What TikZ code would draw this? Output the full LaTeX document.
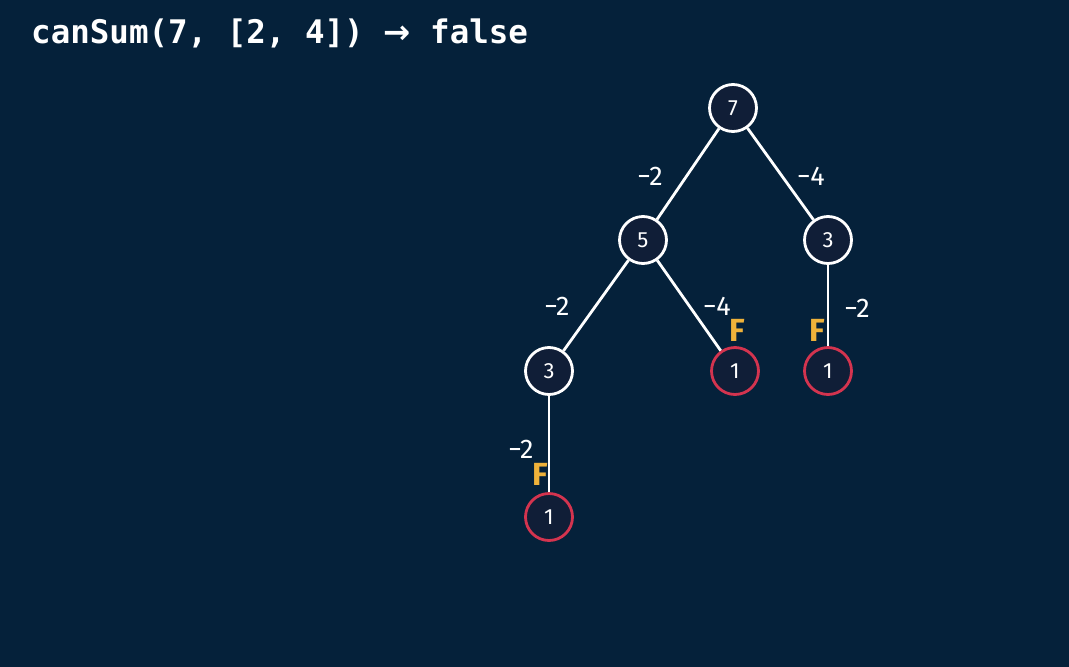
\documentclass[tikz,border=0pt]{standalone}
\usepackage{fontspec}
\setmainfont{Fira Sans}
\newfontfamily\titlefont{DejaVu Sans Mono}
\newfontfamily\arrowfont{DejaVu Sans}
\definecolor{bg}{HTML}{05213A}
\definecolor{nodefill}{HTML}{101E37}
\definecolor{failred}{HTML}{D4344F}
\definecolor{fyellow}{HTML}{EFB23A}
\tikzset{
  tnode/.style={circle, draw=white, line width=2.8pt, fill=nodefill, minimum size=47pt, inner sep=0pt, text=white, font=\fontsize{22}{22}\selectfont},
  failnode/.style={tnode, draw=failred},
  edge/.style={draw=white, line width=2.8pt},
  elabel/.style={text=white, font=\fontsize{27}{27}\selectfont, inner sep=0pt},
  flabel/.style={text=fyellow, font=\bfseries\fontsize{32}{32}\selectfont, inner sep=0pt}
}
\begin{document}
\begin{tikzpicture}[x=1pt, y=-1pt]
\fill[bg] (0,0) rectangle (1069,667);
\useasboundingbox (0,0) rectangle (1069,667);
\node[anchor=west, text=white, font=\titlefont\bfseries\fontsize{32.5}{32.5}\selectfont, inner sep=0pt] (title) at (31,33) {canSum(7, [2, 4]) {\arrowfont\bfseries →} false};
\node[tnode] (n7) at (733,108) {7};
\node[tnode] (n5) at (643,240) {5};
\node[tnode] (n3r) at (828,240) {3};
\node[tnode] (n3l) at (549,371) {3};
\node[failnode] (n1a) at (735,371) {1};
\node[failnode] (n1b) at (828,371) {1};
\node[failnode] (n1c) at (549,517) {1};
\draw[edge] (n7) -- (n5);
\draw[edge] (n7) -- (n3r);
\draw[edge] (n5) -- (n3l);
\draw[edge] (n5) -- (n1a);
\draw[edge] (n3r) -- (n1b);
\draw[edge] (n3l) -- (n1c);
\node[elabel] (l1) at (650,176) {−2};
\node[elabel] (l2) at (811,176) {−4};
\node[elabel] (l3) at (557,306) {−2};
\node[elabel] (l4) at (717,306) {−4};
\node[elabel] (l5) at (857,308) {−2};
\node[elabel] (l6) at (521,449) {−2};
\node[flabel] (f1) at (737,330) {F};
\node[flabel] (f2) at (817,330) {F};
\node[flabel] (f3) at (540,474) {F};
\end{tikzpicture}
\end{document}
